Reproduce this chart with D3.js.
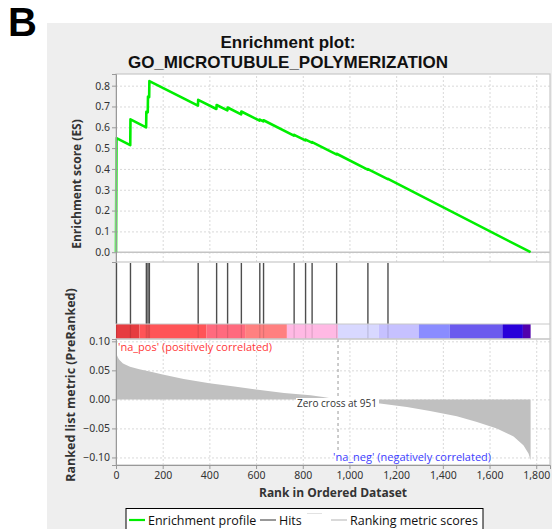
<!DOCTYPE html>
<html>
<head>
<meta charset="utf-8">
<script src="https://cdn.jsdelivr.net/npm/d3@7"></script>
<style>
  body { margin: 0; background: #fff; }
  svg { display: block; }
  .tick text { font-family: "Noto Sans", sans-serif; font-size: 10.5px; fill: #333; }
</style>
</head>
<body>
<svg id="chart" width="552" height="529"></svg>
<script>
// ---- data ----
const xTicks = [0, 200, 400, 600, 800, 1000, 1200, 1400, 1600, 1800];
const esTicks = [0.0, 0.1, 0.2, 0.3, 0.4, 0.5, 0.6, 0.7, 0.8];
const metricTicks = [0.10, 0.05, 0.00, -0.05, -0.10];
const listSize = 1776;
const zeroCross = 951;

// positions of gene-set members in the ranked list
const hitRanks = [2, 62, 130, 137, 143, 352, 431, 478, 537, 616, 632, 763, 812, 840, 945, 1079, 1165];

// running enrichment score (vertices of the step profile)
const esRanks = [0, 2, 61, 62, 129, 130, 136, 137, 142, 143, 351, 352, 430, 431, 477, 478, 536, 537,
                 615, 616, 631, 632, 762, 763, 811, 812, 839, 840, 944, 945, 1078, 1079, 1164, 1165, 1776];
const esScores = [0, 0.548, 0.514, 0.638, 0.600, 0.675, 0.672, 0.748, 0.745, 0.822, 0.704, 0.732, 0.688, 0.707,
                  0.681, 0.695, 0.662, 0.676, 0.632, 0.637, 0.628, 0.634, 0.560, 0.564, 0.537, 0.541,
                  0.526, 0.529, 0.470, 0.473, 0.397, 0.399, 0.351, 0.352, 0];

// ranked list metric
const metricRanks = [0, 2, 5, 10, 15, 30, 60, 100, 145, 200, 290, 400, 507, 600, 720, 833, 887, 951,
                     1040, 1131, 1246, 1345, 1460, 1546, 1631, 1703, 1745, 1767, 1776];
const metricValues = [0.086, 0.080, 0.075, 0.071, 0.068, 0.062, 0.056, 0.052, 0.048, 0.043, 0.035, 0.028,
                      0.022, 0.017, 0.011, 0.007, 0.004, 0.000, -0.004, -0.007, -0.013, -0.020, -0.029,
                      -0.039, -0.050, -0.064, -0.079, -0.093, -0.105];

// heat bar under the hits
const barEdges = [0, 100, 388, 553, 732, 951, 1125, 1297, 1430, 1655, 1743, 1776];
const barColors = ["#e63c40", "#ff5457", "#ff6a7e", "#ff8080", "#ffb9e4", "#d8d8ff",
                   "#c6c1ff", "#8a8cff", "#6b5aee", "#2900da", "#5100ad"];

// ---- layout ----
const svg = d3.select("#chart");
const L = 116, R = 550;
const esTop = 74, esBottom = 262;
const hitsBottom = 324, barBottom = 339;
const mBottom = 465;

const x = d3.scaleLinear().domain([0, 1859]).range([L, R]);
const yES = d3.scaleLinear().domain([-0.047, 0.856]).range([esBottom, esTop]);
const yM = d3.scaleLinear().domain([-0.113, 0.104]).range([mBottom, barBottom]);

const FONT = '"Open Sans", "Noto Sans", sans-serif';

// panel background
svg.append("rect").attr("x", 47).attr("y", 23).attr("width", 505).attr("height", 506).attr("fill", "#eeeeee");

// panel letter
svg.append("text").attr("x", 8).attr("y", 36)
  .attr("font-family", '"Liberation Sans", Arial, sans-serif').attr("font-weight", "bold")
  .attr("font-size", 40).attr("fill", "#000").text("B");

// title
const title = svg.append("g").attr("font-family", '"Liberation Sans", Arial, sans-serif').attr("font-weight", "bold")
  .attr("font-size", 17).attr("fill", "#111").attr("text-anchor", "middle");
title.append("text").attr("x", 288).attr("y", 48).text("Enrichment plot:");
title.append("text").attr("x", 288).attr("y", 67.5).text("GO_MICROTUBULE_POLYMERIZATION");

// white plot areas
svg.append("rect").attr("x", L).attr("y", esTop).attr("width", R - L).attr("height", mBottom - esTop).attr("fill", "#fff");

// ---- enrichment score panel ----
const gridStyle = g => g.selectAll("line").attr("stroke", "#d9d9d9").attr("stroke-width", 1).attr("stroke-dasharray", "2,2");

svg.append("g").attr("transform", `translate(0,${esBottom})`)
  .call(d3.axisBottom(x).tickValues(xTicks).tickSize(-(esBottom - esTop)).tickFormat(""))
  .call(g => g.select(".domain").remove()).call(gridStyle);
svg.append("g").attr("transform", `translate(${L},0)`)
  .call(d3.axisLeft(yES).tickValues(esTicks).tickSize(-(R - L)).tickFormat(""))
  .call(g => g.select(".domain").remove()).call(gridStyle);

// zero line
svg.append("line").attr("x1", L).attr("x2", R).attr("y1", yES(0)).attr("y2", yES(0))
  .attr("stroke", "#c4c4c4").attr("stroke-width", 1.6);

// profile
const esPts = esRanks.map((r, i) => [r, esScores[i]]);
svg.append("path").datum(esPts)
  .attr("d", d3.line().x(d => x(d[0])).y(d => yES(d[1])))
  .attr("fill", "none").attr("stroke", "#00ee00").attr("stroke-width", 2.6).attr("stroke-linejoin", "round");

svg.append("rect").attr("x", L).attr("y", esTop).attr("width", R - L).attr("height", esBottom - esTop)
  .attr("fill", "none").attr("stroke", "#c8c8c8").attr("stroke-width", 1.2);

svg.append("g").attr("transform", `translate(${L},0)`)
  .call(d3.axisLeft(yES).tickValues(esTicks).tickFormat(d3.format(".1f")).tickSize(4).tickPadding(2))
  .call(g => g.selectAll("line, .domain").attr("stroke", "#999"));

svg.append("text").attr("transform", `translate(81,184) rotate(-90)`)
  .attr("font-family", FONT).attr("font-weight", "bold").attr("font-size", 12)
  .attr("fill", "#333").attr("text-anchor", "middle").text("Enrichment score (ES)");

// ---- hits + heat bar ----
svg.append("g").selectAll("rect").data(barColors).join("rect")
  .attr("x", (d, i) => x(barEdges[i])).attr("width", (d, i) => x(barEdges[i + 1]) - x(barEdges[i]))
  .attr("y", hitsBottom).attr("height", barBottom - hitsBottom).attr("fill", d => d);

svg.append("g").selectAll("line").data(hitRanks).join("line")
  .attr("x1", d => x(d)).attr("x2", d => x(d)).attr("y1", esBottom + 1).attr("y2", hitsBottom)
  .attr("stroke", "#4d4d4d").attr("stroke-width", 1.4);
svg.append("g").selectAll("line").data(hitRanks).join("line")
  .attr("x1", d => x(d)).attr("x2", d => x(d)).attr("y1", hitsBottom).attr("y2", barBottom)
  .attr("stroke", "#000").attr("stroke-opacity", 0.12).attr("stroke-width", 1.3);

[hitsBottom, barBottom].forEach(yy =>
  svg.append("line").attr("x1", L).attr("x2", R).attr("y1", yy).attr("y2", yy)
    .attr("stroke", "#c8c8c8").attr("stroke-width", 1));
svg.append("line").attr("x1", R).attr("x2", R).attr("y1", esBottom).attr("y2", barBottom)
  .attr("stroke", "#c8c8c8").attr("stroke-width", 1.2);

// ---- ranked list metric panel ----
svg.append("g").attr("transform", `translate(0,${mBottom})`)
  .call(d3.axisBottom(x).tickValues(xTicks).tickSize(-(mBottom - barBottom)).tickFormat(""))
  .call(g => g.select(".domain").remove()).call(gridStyle);
svg.append("g").attr("transform", `translate(${L},0)`)
  .call(d3.axisLeft(yM).tickValues(metricTicks).tickSize(-(R - L)).tickFormat(""))
  .call(g => g.select(".domain").remove()).call(gridStyle);

const mPts = metricRanks.map((r, i) => [r, metricValues[i]]);
svg.append("path").datum(mPts)
  .attr("d", d3.area().x(d => x(d[0])).y0(yM(0)).y1(d => yM(d[1])))
  .attr("fill", "#c0c0c0");

svg.append("line").attr("x1", x(zeroCross)).attr("x2", x(zeroCross)).attr("y1", barBottom).attr("y2", 450)
  .attr("stroke", "#999").attr("stroke-width", 1).attr("stroke-dasharray", "3,3");

svg.append("rect").attr("x", 296).attr("y", 398).attr("width", 83).attr("height", 11).attr("fill", "#fff");
svg.append("text").attr("x", 297).attr("y", 406.5)
  .attr("font-family", FONT).attr("font-size", 10).attr("fill", "#333").text(`Zero cross at ${zeroCross}`);

svg.append("text").attr("x", 118).attr("y", 350.5)
  .attr("font-family", FONT).attr("font-size", 11).attr("fill", "#ff3838").text("'na_pos' (positively correlated)");
svg.append("text").attr("x", 333).attr("y", 461)
  .attr("font-family", FONT).attr("font-size", 11).attr("fill", "#3d3dff").text("'na_neg' (negatively correlated)");

svg.append("rect").attr("x", L).attr("y", barBottom).attr("width", R - L).attr("height", mBottom - barBottom)
  .attr("fill", "none").attr("stroke", "#c8c8c8").attr("stroke-width", 1.2);

svg.append("g").attr("transform", `translate(${L},0)`)
  .call(d3.axisLeft(yM).tickValues(metricTicks).tickFormat(d3.format(".2f")).tickSize(4).tickPadding(2))
  .call(g => g.selectAll("line, .domain").attr("stroke", "#999"));
svg.append("g").attr("transform", `translate(0,${mBottom})`)
  .call(d3.axisBottom(x).tickValues(xTicks).tickFormat(d3.format(",")).tickSize(4).tickPadding(3))
  .call(g => g.selectAll("line, .domain").attr("stroke", "#999"));

svg.append("text").attr("transform", `translate(75,385) rotate(-90)`)
  .attr("font-family", FONT).attr("font-weight", "bold").attr("font-size", 12.5)
  .attr("fill", "#333").attr("text-anchor", "middle").text("Ranked list metric (PreRanked)");
svg.append("text").attr("x", 333).attr("y", 497)
  .attr("font-family", FONT).attr("font-weight", "bold").attr("font-size", 12)
  .attr("fill", "#333").attr("text-anchor", "middle").text("Rank in Ordered Dataset");

// ---- legend ----
const lg = svg.append("g");
lg.append("rect").attr("x", 126).attr("y", 508.5).attr("width", 357).attr("height", 30)
  .attr("fill", "#fff").attr("stroke", "#000").attr("stroke-width", 1);
const legendItems = [
  { x: 129, color: "#00ee00", w: 2.2, label: "Enrichment profile" },
  { x: 260, color: "#333", w: 1, label: "Hits" },
  { x: 331, color: "#c0c0c0", w: 1.2, label: "Ranking metric scores" }
];
legendItems.forEach(it => {
  lg.append("line").attr("x1", it.x).attr("x2", it.x + 16).attr("y1", 520).attr("y2", 520)
    .attr("stroke", it.color).attr("stroke-width", it.w);
  lg.append("text").attr("x", it.x + 19).attr("y", 524.5)
    .attr("font-family", FONT).attr("font-size", 12.5).attr("fill", "#111").text(it.label);
});
lg.append("line").attr("x1", 307).attr("x2", 322).attr("y1", 513.5).attr("y2", 513.5)
  .attr("stroke", "#e2e2e2").attr("stroke-width", 1);
</script>
</body>
</html>
